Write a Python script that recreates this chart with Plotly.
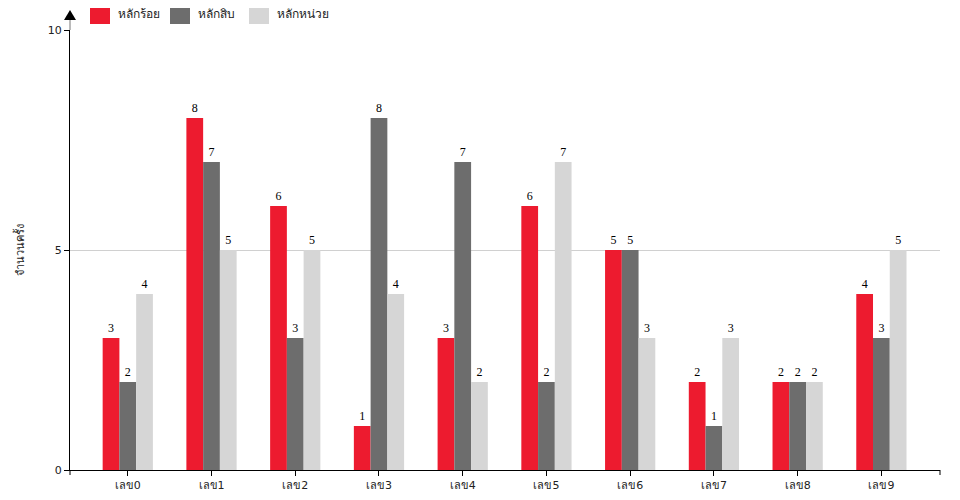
import plotly.graph_objects as go

categories = ["เลข0", "เลข1", "เลข2", "เลข3", "เลข4", "เลข5", "เลข6", "เลข7", "เลข8", "เลข9"]
hundreds = [3, 8, 6, 1, 3, 6, 5, 2, 2, 4]
tens = [2, 7, 3, 8, 7, 2, 5, 1, 2, 3]
units = [4, 5, 5, 4, 2, 7, 3, 3, 2, 5]

series = [
    ("หลักร้อย", hundreds, "#ED1B2F"),
    ("หลักสิบ", tens, "#6D6D6D"),
    ("หลักหน่วย", units, "#D6D6D6"),
]

# page body adds an 8px offset, so margins are shifted by it
W, H = 960, 500
PL, PT = 70, 30          # plot left/top on screen
pw, ph = 870, 440
L, T = PL - 8, PT - 8
R = W - L - pw
B = H - T - ph

fig = go.Figure()
for name, vals, color in series:
    fig.add_trace(go.Bar(
        x=categories, y=vals, name=name, marker=dict(color=color, line=dict(width=0)),
        text=vals, textposition="outside", cliponaxis=False, showlegend=False,
        textfont=dict(family="Liberation Serif", size=12, color="black"),
    ))

fig.update_layout(
    width=W, height=H,
    margin=dict(l=L, r=R, t=T, b=B, autoexpand=False),
    plot_bgcolor="white", paper_bgcolor="white",
    barmode="group", bargap=0.4, bargroupgap=0,
    font=dict(family="DejaVu Sans", size=11, color="#222"),
)
fig.update_xaxes(range=[-0.69, 9.7], showline=True, linecolor="black", linewidth=1,
                 ticks="outside", ticklen=5, tickcolor="black", showgrid=False)
fig.update_yaxes(range=[0, 10], tickvals=[0, 5, 10], showline=True, linecolor="black",
                 linewidth=1, ticks="outside", ticklen=5, tickcolor="black",
                 showgrid=True, gridcolor="#D0D0D0", zeroline=False,
                 title=dict(text="จำนวนครั้ง", font=dict(size=11), standoff=20))

# legend drawn by hand (bigger swatches), positions in screen pixels
legend_x = [90, 170, 249]
for (name, vals, color), lx in zip(series, legend_x):
    fig.add_shape(type="rect", xref="paper", yref="paper",
                  x0=(lx - PL) / pw, x1=(lx + 20 - PL) / pw,
                  y0=1 + (PT - 24) / ph, y1=1 + (PT - 4) / ph,
                  fillcolor=color, line=dict(width=0))
    fig.add_annotation(xref="paper", yref="paper", x=(lx + 26 - PL) / pw, y=1 + (PT - 14) / ph,
                       text=name, showarrow=False, xanchor="left", yanchor="middle",
                       font=dict(size=12, color="#222"))

# end ticks on x axis and arrow on y axis
dx = 6 / pw
fig.add_shape(type="line", xref="paper", yref="paper", x0=1, x1=1, y0=0, y1=-5 / ph,
              line=dict(color="black", width=1))
fig.add_shape(type="line", xref="paper", yref="paper", x0=0, x1=0, y0=0, y1=-5 / ph,
              line=dict(color="black", width=1))
fig.add_shape(type="line", xref="paper", yref="paper", x0=0, x1=0, y0=1, y1=1 + 10 / ph,
              line=dict(color="#777", width=1))
fig.add_shape(type="path", xref="paper", yref="paper",
              path=f"M {-dx} {1 + 10 / ph} L {dx} {1 + 10 / ph} L 0 {1 + 20 / ph} Z",
              fillcolor="black", line=dict(color="black", width=0))

fig.write_html("out.html")
